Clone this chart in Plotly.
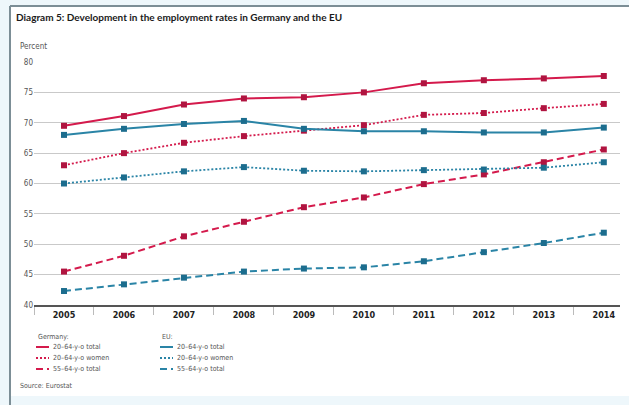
import plotly.graph_objects as go

# Employment rates (percent), Germany vs EU
years = ["2005", "2006", "2007", "2008", "2009", "2010", "2011", "2012", "2013", "2014"]
de_total = [69.5, 71.1, 73.0, 74.0, 74.2, 75.0, 76.5, 77.0, 77.3, 77.7]
de_women = [63.0, 65.0, 66.7, 67.8, 68.7, 69.6, 71.3, 71.6, 72.4, 73.1]
de_older = [45.5, 48.1, 51.3, 53.7, 56.1, 57.7, 59.9, 61.5, 63.5, 65.6]
eu_total = [68.0, 69.0, 69.8, 70.3, 69.0, 68.6, 68.6, 68.4, 68.4, 69.2]
eu_women = [60.0, 61.0, 62.0, 62.7, 62.1, 62.0, 62.2, 62.3, 62.6, 63.5]
eu_older = [42.3, 43.4, 44.5, 45.5, 46.0, 46.2, 47.2, 48.7, 50.2, 51.9]
series_labels = ["20\u201364-y-o total", "20\u201364-y-o women", "55\u201364-y-o total"]
y_ticks = [40, 45, 50, 55, 60, 65, 70, 75, 80]

W, H = 629, 405
L, R, T, B = 34, 9, 62, 100
PW, PH = W - L - R, H - T - B

RED, RED_MK = "#d41a4c", "#b01440"
BLUE, BLUE_MK = "#2a84a6", "#1c6d8e"
dashes = ["solid", "2px,2px", "7px,4px"]
widths = [2, 1.8, 2]
BODY_FONT = "DejaVu Sans Condensed, sans-serif"


def px(x):
    return (x - L) / PW


def py(y):
    return (H - B - y) / PH


fig = go.Figure()
groups = [
    (de_total, de_women, de_older, RED, RED_MK),
    (eu_total, eu_women, eu_older, BLUE, BLUE_MK),
]
for vals_a, vals_b, vals_c, col, mk in groups:
    for vals, dash, w in zip((vals_a, vals_b, vals_c), dashes, widths):
        fig.add_trace(go.Scatter(
            x=years, y=vals, mode="lines+markers",
            line=dict(color=col, width=w, dash=dash),
            marker=dict(symbol="square", size=6, color=mk),
            showlegend=False, hoverinfo="skip",
        ))

shapes = [
    # white panel with grey frame on top and left
    dict(type="rect", xref="paper", yref="paper", x0=px(11), x1=px(W), y0=py(396), y1=py(7),
         fillcolor="white", line=dict(width=0), layer="below"),
    dict(type="line", xref="paper", yref="paper", x0=px(10), x1=px(W), y0=py(6), y1=py(6),
         line=dict(color="#7c8e96", width=2)),
    dict(type="line", xref="paper", yref="paper", x0=px(10), x1=px(10), y0=py(6), y1=py(H),
         line=dict(color="#7c8e96", width=2)),
]
annotations = [
    dict(text="<b>Diagram 5: Development in the employment rates in Germany and the EU</b>",
         xref="paper", yref="paper", x=px(14), y=py(17), xanchor="left", yanchor="middle",
         showarrow=False, font=dict(size=10, color="#1a1a1a", family="Lato, sans-serif")),
    dict(text="Percent", xref="paper", yref="paper", x=px(18), y=py(47), xanchor="left",
         yanchor="middle", showarrow=False, font=dict(size=8, color="#555")),
    dict(text="Source: Eurostat", xref="paper", yref="paper", x=px(18), y=py(386), xanchor="left",
         yanchor="middle", showarrow=False, font=dict(size=7, color="#555")),
]

# key below the chart: two columns, Germany and EU
for head, col, x0 in (("Germany:", RED, 36), ("EU:", BLUE, 160)):
    annotations.append(dict(text=head, xref="paper", yref="paper", x=px(x0), y=py(337),
                            xanchor="left", yanchor="middle", showarrow=False,
                            font=dict(size=7, color="#555")))
    for i, (lab, dash, w) in enumerate(zip(series_labels, dashes, widths)):
        yy = 347 + i * 11
        shapes.append(dict(type="line", xref="paper", yref="paper", x0=px(x0), x1=px(x0 + 13),
                           y0=py(yy), y1=py(yy), line=dict(color=col, width=w, dash=dash)))
        annotations.append(dict(text=lab, xref="paper", yref="paper", x=px(x0 + 15), y=py(yy),
                                xanchor="left", yanchor="middle", showarrow=False,
                                font=dict(size=7, color="#555")))

fig.update_layout(
    width=W, height=H,
    margin=dict(l=L, r=R, t=T, b=B),
    paper_bgcolor="#eef7fb", plot_bgcolor="white",
    font=dict(family=BODY_FONT),
    shapes=shapes, annotations=annotations,
    xaxis=dict(type="category", range=[-0.5, 9.27], showgrid=False,
               showline=True, linecolor="#555", linewidth=1.5,
               ticks="outside", tickson="boundaries", ticklen=8, tickcolor="#bbb",
               tickfont=dict(size=9, color="#222"), fixedrange=True),
    yaxis=dict(range=[40, 80], tickvals=y_ticks, showgrid=True, gridcolor="#c9c9c9",
               gridwidth=1, zeroline=False, showline=False, ticks="",
               tickfont=dict(size=8, color="#555"), fixedrange=True),
)
fig.update_xaxes(ticktext=["<b>%s</b>" % y for y in years], tickvals=years)

fig.write_html("out.html")
